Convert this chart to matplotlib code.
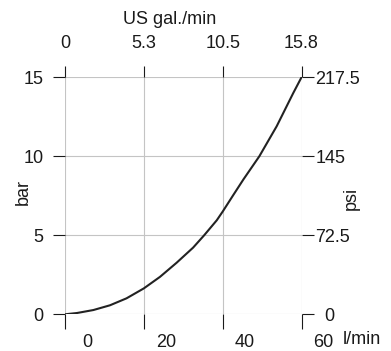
import matplotlib.pyplot as plt
from matplotlib.transforms import ScaledTranslation

plt.rcParams["font.family"] = ["Liberation Sans", "DejaVu Sans"]

# flow / pressure curve
flow_lpm = [0, 3.0, 7.2, 11.4, 15.6, 20, 24.1, 28.3, 32.5, 35.3, 38.5, 40,
            42.7, 45.3, 49.3, 53.7, 57.9, 60]
pressure_bar = [0, 0.08, 0.27, 0.57, 1.01, 1.64, 2.37, 3.26, 4.22, 5.0, 5.95, 6.5,
                7.55, 8.55, 10.0, 11.9, 14.0, 15]

lpm_ticks = [0, 20, 40, 60]
gal_labels = ["0", "5.3", "10.5", "15.8"]
bar_ticks = [0, 5, 10, 15]
psi_labels = ["0", "72.5", "145", "217.5"]

W, H = 391, 351
DPI = 100
TXT = "#1a1a1a"
FS = 13

fig = plt.figure(figsize=(W / DPI, H / DPI), dpi=DPI)
L, R, T, B = 65, 301.5, 77.3, 314.3
ax = fig.add_axes([L / W, 1 - B / H, (R - L) / W, (B - T) / H])
ax.set_xlim(0, 60)
ax.set_ylim(0, 15)
ax.set_axisbelow(True)
ax.grid(True, color="#c4c4c4", lw=0.8)
for s in ax.spines.values():
    s.set_visible(False)

ax.plot(flow_lpm, pressure_bar, color="#222222", lw=1.5, solid_capstyle="round",
        solid_joinstyle="round", zorder=5)

ax.set_yticks(bar_ticks)
ax.tick_params(axis="y", direction="out", length=8.6, width=0.8, pad=7,
               labelsize=FS, colors=TXT)
ax.set_xticks(lpm_ticks)
ax.tick_params(axis="x", direction="out", length=10.5, width=0.8, pad=4,
               labelsize=FS, colors=TXT)
off = ScaledTranslation(22 / DPI, 0, fig.dpi_scale_trans)
for lab in ax.get_xticklabels():
    lab.set_transform(lab.get_transform() + off)

ax_top = ax.twiny()
ax_top.set_xlim(0, 60)
ax_top.set_xticks(lpm_ticks, gal_labels)
ax_top.tick_params(axis="x", direction="out", length=8, width=0.8, pad=10,
                   labelsize=FS, colors=TXT)
for s in ax_top.spines.values():
    s.set_visible(False)

ax_r = ax.twinx()
ax_r.set_ylim(0, 15)
ax_r.set_yticks(bar_ticks, psi_labels)
ax_r.tick_params(axis="y", direction="out", length=8.6, width=0.8, pad=1.5,
                 labelsize=FS, colors=TXT)
for s in ax_r.spines.values():
    s.set_visible(False)
lab0 = ax_r.get_yticklabels()[0]
lab0.set_transform(lab0.get_transform() + ScaledTranslation(9 / DPI, 0, fig.dpi_scale_trans))

fig.text(170 / W, 1 - 19 / H, "US gal./min", ha="center", va="center", fontsize=FS, color=TXT)
fig.text(23 / W, 1 - 192 / H, "bar", ha="center", va="center", rotation=90, fontsize=FS, color=TXT)
fig.text(351 / W, 1 - 198 / H, "psi", ha="center", va="center", rotation=90, fontsize=FS, color=TXT)
fig.text(362 / W, 1 - 340 / H, "l/min", ha="center", va="center", fontsize=FS, color=TXT)

fig.savefig("out.png", dpi=DPI)
plt.close(fig)
